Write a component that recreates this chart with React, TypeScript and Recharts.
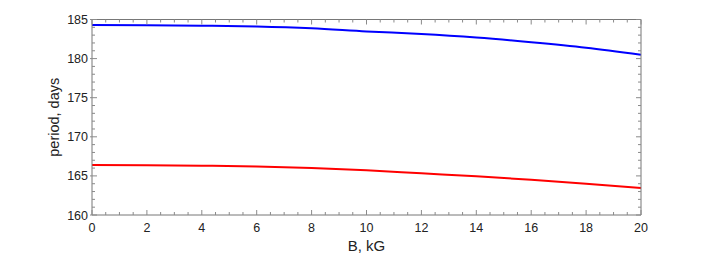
import { LineChart, Line, XAxis, YAxis } from "recharts"

// B field, kG
const fieldKG = [0, 2, 4, 6, 8, 10, 12, 14, 16, 18, 20]
// orbital period, days
const periodBlue = [184.3, 184.26, 184.2, 184.1, 183.87, 183.47, 183.15, 182.7, 182.1, 181.4, 180.5]
const periodRed = [166.4, 166.37, 166.3, 166.2, 166.0, 165.72, 165.33, 164.95, 164.5, 164.0, 163.45]

const xMajor = [0, 2, 4, 6, 8, 10, 12, 14, 16, 18, 20]
const yMajor = [160, 165, 170, 175, 180, 185]
const xTicks = Array.from({ length: 41 }, (_, i) => i * 0.5)
const yTicks = Array.from({ length: 26 }, (_, i) => 160 + i)

const data = fieldKG.map((b, i) => ({ b, blue: periodBlue[i], red: periodRed[i] }))

const W = 708
const H = 254
const TOP = 19.5
const BOTTOM = 215
const LEFT = 92
const RIGHT = 641
const TICK_COLOR = "#8a8a8a"
const FONT = "'Liberation Sans', Arial, sans-serif"

const isMajor = (v: number, list: number[]) => list.some((m) => Math.abs(m - v) < 1e-6)

function BottomTick(props: any) {
  const { x, payload } = props
  const major = isMajor(payload.value, xMajor)
  return (
    <g>
      <line x1={x} x2={x} y1={BOTTOM} y2={BOTTOM - (major ? 5 : 3)} stroke={TICK_COLOR} />
      {major && (
        <text x={x} y={BOTTOM + 17} textAnchor="middle" fontSize={12.5} fill="#222" fontFamily={FONT}>
          {payload.value}
        </text>
      )}
    </g>
  )
}

function TopTick(props: any) {
  const { x, payload } = props
  const major = isMajor(payload.value, xMajor)
  return <line x1={x} x2={x} y1={TOP} y2={TOP + (major ? 5 : 3)} stroke={TICK_COLOR} />
}

function LeftTick(props: any) {
  const { y, payload } = props
  const major = isMajor(payload.value, yMajor)
  return (
    <g>
      <line x1={LEFT - (major ? 2 : 0)} x2={LEFT + (major ? 5 : 3)} y1={y} y2={y} stroke={TICK_COLOR} />
      {major && (
        <text x={LEFT - 4} y={y + 4.5} textAnchor="end" fontSize={12.5} fill="#222" fontFamily={FONT}>
          {payload.value}
        </text>
      )}
    </g>
  )
}

function RightTick(props: any) {
  const { y, payload } = props
  const major = isMajor(payload.value, yMajor)
  return <line x1={RIGHT} x2={RIGHT - (major ? 5 : 3)} y1={y} y2={y} stroke={TICK_COLOR} />
}

export default function App() {
  return (
    <div style={{ position: "absolute", left: 0, top: 0, width: W, height: H, background: "#fff" }}>
      <LineChart width={W} height={H} data={data} margin={{ top: 0, right: 0, bottom: 0, left: 0 }}>
        <XAxis
          xAxisId="bottom"
          dataKey="b"
          type="number"
          domain={[0, 20]}
          ticks={xTicks}
          interval={0}
          height={H - BOTTOM}
          tickLine={false}
          axisLine={{ stroke: "#777" }}
          tick={<BottomTick />}
          label={{ value: "B, kG", position: "insideBottom", offset: 3, fontSize: 15, fill: "#222", fontFamily: FONT }}
        />
        <XAxis
          xAxisId="top"
          orientation="top"
          dataKey="b"
          type="number"
          domain={[0, 20]}
          ticks={xTicks}
          interval={0}
          height={TOP}
          tickLine={false}
          axisLine={{ stroke: "#777" }}
          tick={<TopTick />}
        />
        <YAxis
          yAxisId="left"
          type="number"
          domain={[160, 185]}
          ticks={yTicks}
          interval={0}
          width={LEFT}
          tickLine={false}
          axisLine={{ stroke: "#777" }}
          tick={<LeftTick />}
          label={{
            value: "period, days",
            angle: -90,
            position: "insideLeft",
            offset: 54,
            fontSize: 14.5,
            fill: "#222",
            fontFamily: FONT,
            style: { textAnchor: "middle" },
          }}
        />
        <YAxis
          yAxisId="right"
          orientation="right"
          type="number"
          domain={[160, 185]}
          ticks={yTicks}
          interval={0}
          width={W - RIGHT}
          tickLine={false}
          axisLine={{ stroke: "#777" }}
          tick={<RightTick />}
        />
        <Line
          xAxisId="bottom"
          yAxisId="left"
          type="monotone"
          dataKey="blue"
          stroke="#0000ff"
          strokeWidth={2}
          dot={false}
          isAnimationActive={false}
        />
        <Line
          xAxisId="top"
          yAxisId="right"
          type="monotone"
          dataKey="red"
          stroke="#ff0000"
          strokeWidth={2}
          dot={false}
          isAnimationActive={false}
        />
      </LineChart>
    </div>
  )
}
